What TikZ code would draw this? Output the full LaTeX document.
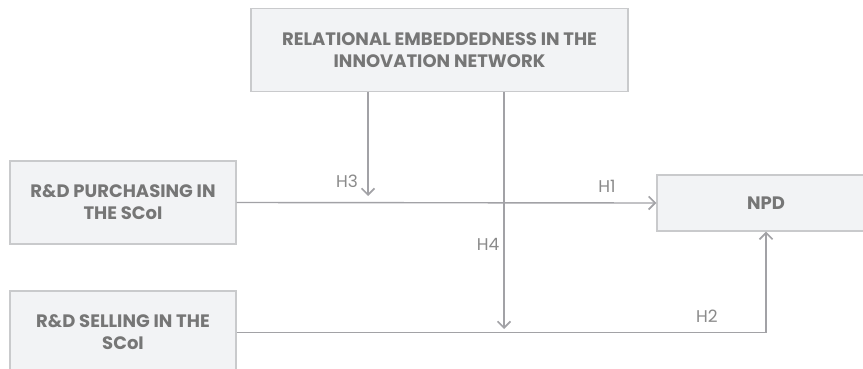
\documentclass[tikz,border=0pt]{standalone}
\usepackage{fontspec}
\setmainfont{Poppins}
\usetikzlibrary{arrows.meta}
\definecolor{boxfill}{HTML}{F2F3F5}
\definecolor{boxline}{HTML}{C9CACC}
\definecolor{boxtext}{HTML}{767676}
\definecolor{arrowgray}{HTML}{A2A2A6}
\begin{document}
\begin{tikzpicture}[
x=1pt, y=1pt,
>={Straight Barb[length=6.5pt,width=13pt,line width=1.7pt]},
line/.style={draw=arrowgray, line width=1.4pt},
var/.style={draw=boxline, line width=1.2pt, fill=boxfill, text=boxtext,
  font=\fontsize{18}{22}\selectfont\bfseries, align=center, inner sep=0pt},
hyp/.style={text=boxtext!85, font=\fontsize{17}{19}\selectfont, inner sep=0pt}
]
\useasboundingbox (0,0) rectangle (863,-369);
\clip (0,0) rectangle (863,-369);

\node[var, minimum width=377pt, minimum height=83pt] (rel) at (439.5,-50) {RELATIONAL EMBEDDEDNESS IN THE\\INNOVATION NETWORK};
\node[var, minimum width=226pt, minimum height=83pt] (pur) at (123,-202.5) {R\&D PURCHASING IN\\THE SCoI};
\node[var, minimum width=226pt, minimum height=83pt] (sel) at (123,-332.5) {R\&D SELLING IN THE\\SCoI};
\node[var, minimum width=218pt, minimum height=56pt] (npd) at (766,-203) {NPD};

\coordinate (h3end) at (368,-196);
\coordinate (h4end) at (504,-329);
\coordinate (bend) at (npd.south |- sel.east);

\path[line,->] (pur.east) -- (npd.west);
\path[line,->] (sel.east) -- (bend) -- (npd.south);
\path[line,->] (rel.south -| h3end) -- (h3end);
\path[line,->] (rel.south -| h4end) -- (h4end);

%hypotheses
\node[hyp] (h1) at (607,-186) {H1};
\node[hyp] (h2) at (707,-316) {H2};
\node[hyp] (h3) at (347,-181) {H3};
\node[hyp] (h4) at (488,-244) {H4};

\end{tikzpicture}
\end{document}
